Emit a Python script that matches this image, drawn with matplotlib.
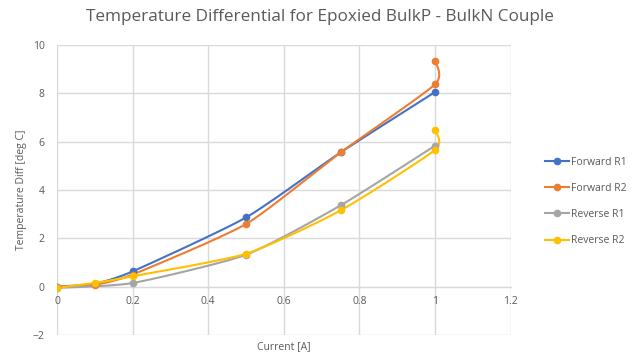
import matplotlib.pyplot as plt
import numpy as np

plt.rcParams['font.family'] = ['Open Sans', 'DejaVu Sans']

# measured temperature differential vs drive current
fwd_r1_x = [0, 0.1, 0.2, 0.5, 0.75, 1]
fwd_r1_y = [0.0, 0.12, 0.63, 2.86, 5.55, 8.05]
fwd_r2_x = [0, 0.1, 0.2, 0.5, 0.75, 1, 1]
fwd_r2_y = [0.0, 0.08, 0.5, 2.59, 5.55, 8.37, 9.34]
rev_r1_x = [0, 0.2, 0.5, 0.75, 1]
rev_r1_y = [-0.05, 0.15, 1.32, 3.36, 5.83]
rev_r2_x = [0, 0.1, 0.2, 0.5, 0.75, 1, 1]
rev_r2_y = [-0.05, 0.15, 0.43, 1.36, 3.15, 5.66, 6.47]

names = ['Forward R1', 'Forward R2', 'Reverse R1', 'Reverse R2']
colors = ['#4472C4', '#ED7D31', '#A5A5A5', '#FFC000']


def smooth(xs, ys, k=0.3, n=30):
    # cardinal spline through the points (smoothed line)
    p = np.column_stack([xs, ys]).astype(float)
    ext = np.vstack([p[0], p, p[-1]])
    m = k * (ext[2:] - ext[:-2])
    t = np.linspace(0, 1, n)[:, None]
    h00 = 2 * t ** 3 - 3 * t ** 2 + 1
    h10 = t ** 3 - 2 * t ** 2 + t
    h01 = -2 * t ** 3 + 3 * t ** 2
    h11 = t ** 3 - t ** 2
    out = [h00 * p[i] + h10 * m[i] + h01 * p[i + 1] + h11 * m[i + 1]
           for i in range(len(p) - 1)]
    out = np.vstack(out)
    return out[:, 0], out[:, 1]


fig = plt.figure(figsize=(6.39, 3.56), dpi=100)
ax = fig.add_axes([0.0892, 0.059, 0.71, 0.815])

series = [(fwd_r1_x, fwd_r1_y), (fwd_r2_x, fwd_r2_y),
          (rev_r1_x, rev_r1_y), (rev_r2_x, rev_r2_y)]
for (xs, ys), name, c in zip(series, names, colors):
    sx, sy = smooth(xs, ys)
    ax.plot(sx, sy, color=c, lw=1.5, zorder=3)
    ax.plot(xs, ys, 'o', color=c, ms=4.5, zorder=4)
    ax.plot([], [], '-o', color=c, lw=1.5, ms=4.5, label=name)

ax.set_xlim(0, 1.2)
ax.set_ylim(-2, 10)
ax.set_xticks(np.arange(0, 1.21, 0.2))
ax.set_xticklabels(['0', '0.2', '0.4', '0.6', '0.8', '1', '1.2'])
ax.set_yticks(range(-2, 11, 2))
ax.grid(True, color='#D9D9D9', lw=1)
ax.set_axisbelow(True)
for s in ['top', 'right', 'left']:
    ax.spines[s].set_visible(False)
ax.spines['bottom'].set_position(('data', 0))
ax.spines['bottom'].set_color('#D9D9D9')
ax.tick_params(length=0, labelsize=7.5, colors='#595959')
ax.tick_params(axis='y', pad=9)
ax.tick_params(axis='x', pad=7)

ax.set_xlabel('Current [A]', fontsize=7.5, color='#595959')
ax.xaxis.set_label_coords(0.5, -0.022)
ax.set_ylabel('Temperature Diff [deg C]', fontsize=7.5, color='#595959', labelpad=4)
fig.suptitle('Temperature Differential for Epoxied BulkP - BulkN Couple',
             x=0.5, y=0.975, fontsize=12.3, color='#595959')

ax.legend(loc='center left', bbox_to_anchor=(1.055, 0.46), frameon=False,
          fontsize=7.5, labelcolor='#595959', handlelength=2.3,
          handletextpad=0.2, labelspacing=1.45)

plt.savefig('out.png', dpi=100)
